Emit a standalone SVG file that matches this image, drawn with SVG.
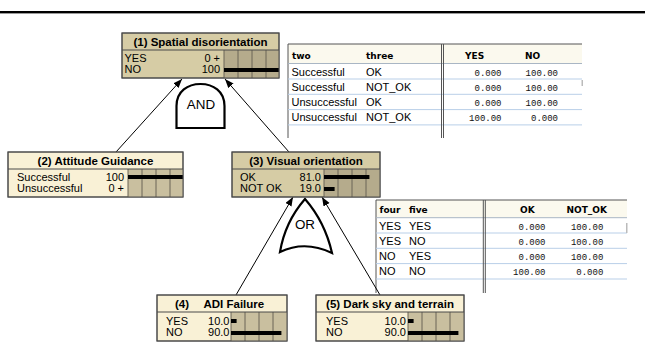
<svg xmlns="http://www.w3.org/2000/svg" width="645" height="343" viewBox="0 0 645 343">
<defs>
<style>
.nb{stroke:#4a4a4a;stroke-width:1}
.dk{fill:#d6cca5}
.lt{fill:#f9f1d6}
.bdk{fill:#b5ab8c}
.blt{fill:#c9bf9f}
.grid{stroke:#6a6456;stroke-width:1}
.ttl{font-family:"Liberation Sans",Arial,sans-serif;font-weight:bold;font-size:11.5px;fill:#000}
.row{font-family:"Liberation Sans",Arial,sans-serif;font-size:11px;fill:#000}
.val{font-family:"Liberation Sans",Arial,sans-serif;font-size:11px;fill:#000;text-anchor:end}
.bar{fill:#000}
.conn{stroke:#000;stroke-width:1;fill:none}
.gate{stroke:#000;stroke-width:2.2;fill:#fff}
.gtxt{font-family:"Liberation Sans",Arial,sans-serif;font-size:13.4px;fill:#000;text-anchor:middle}
.th{font-family:"DejaVu Sans",Verdana,sans-serif;font-weight:bold;font-size:9px;fill:#000}
.td{font-family:"Liberation Sans",Arial,sans-serif;font-size:11px;fill:#000}
.tv{font-family:"Liberation Mono","Courier New",monospace;font-size:9px;fill:#111;text-anchor:end}
.tb{stroke:#555;stroke-width:1}
.hl{stroke:#b9cfe8;stroke-width:1}
</style>
<marker id="ah" markerUnits="userSpaceOnUse" markerWidth="10" markerHeight="8" refX="9" refY="3.5" orient="auto">
<path d="M0,0 L9,3.5 L0,7 Z" fill="#000"/>
</marker>
</defs>
<rect width="645" height="343" fill="#fff"/>
<line x1="0" y1="12" x2="645" y2="12" stroke="#000" stroke-width="2"/>
<line x1="0" y1="13.5" x2="645" y2="13.5" stroke="#9a9a9a" stroke-width="1"/>

<g id="table1">
<rect x="288" y="44" width="294" height="94" fill="#fff"/>
<rect x="288" y="44" width="294" height="19.5" fill="#fbf9ee"/>
<line class="tb" x1="288" y1="44" x2="582" y2="44"/>
<line class="tb" x1="288" y1="44" x2="288" y2="138"/>
<line x1="288" y1="63.5" x2="582" y2="63.5" stroke="#a9b6c4"/>
<line class="hl" x1="288" y1="79" x2="582" y2="79"/>
<line class="hl" x1="288" y1="94.3" x2="582" y2="94.3"/>
<line class="hl" x1="288" y1="109.6" x2="582" y2="109.6"/>
<line class="hl" x1="288" y1="124.9" x2="582" y2="124.9"/>
<line class="tb" x1="441.5" y1="44" x2="441.5" y2="138"/>
<line class="tb" x1="443.5" y1="44" x2="443.5" y2="138"/>
<rect x="581.5" y="80" width="1.5" height="6" fill="#bbb"/>
<text class="th" x="292" y="58.5">two</text>
<text class="th" x="366" y="58.5">three</text>
<text class="th" x="465" y="58.5">YES</text>
<text class="th" x="525" y="58.5">NO</text>
<text class="td" x="291.5" y="75.5">Successful</text><text class="td" x="366" y="75.5">OK</text>
<text class="tv" x="501.5" y="75.5">0.000</text><text class="tv" x="558" y="75.5">100.00</text>
<text class="td" x="291.5" y="90.8">Successful</text><text class="td" x="366" y="90.8">NOT_OK</text>
<text class="tv" x="501.5" y="90.8">0.000</text><text class="tv" x="558" y="90.8">100.00</text>
<text class="td" x="291.5" y="106.1">Unsuccessful</text><text class="td" x="366" y="106.1">OK</text>
<text class="tv" x="501.5" y="106.1">0.000</text><text class="tv" x="558" y="106.1">100.00</text>
<text class="td" x="291.5" y="121.4">Unsuccessful</text><text class="td" x="366" y="121.4">NOT_OK</text>
<text class="tv" x="501.5" y="121.4">100.00</text><text class="tv" x="558" y="121.4">0.000</text>
</g>

<g id="table2">
<rect x="376" y="200" width="251" height="93" fill="#fff"/>
<rect x="376" y="200" width="251" height="17.7" fill="#fbf9ee"/>
<line class="tb" x1="376" y1="200" x2="627" y2="200"/>
<line class="tb" x1="376" y1="200" x2="376" y2="293"/>
<line x1="376" y1="217.7" x2="627" y2="217.7" stroke="#a9b6c4"/>
<line class="hl" x1="376" y1="233" x2="627" y2="233"/>
<line class="hl" x1="376" y1="248.3" x2="627" y2="248.3"/>
<line class="hl" x1="376" y1="263.6" x2="627" y2="263.6"/>
<line class="hl" x1="376" y1="279" x2="627" y2="279"/>
<line class="tb" x1="483.3" y1="200" x2="483.3" y2="293"/>
<line class="tb" x1="485.3" y1="200" x2="485.3" y2="293"/>
<rect x="626" y="223" width="1.5" height="10" fill="#bbb"/>
<text class="th" x="379.5" y="212.5">four</text>
<text class="th" x="409" y="212.5">five</text>
<text class="th" x="520" y="212.5">OK</text>
<text class="th" x="566.5" y="212.5">NOT_OK</text>
<text class="td" x="379" y="229.5">YES</text><text class="td" x="409" y="229.5">YES</text>
<text class="tv" x="545.5" y="229.5">0.000</text><text class="tv" x="603.3" y="229.5">100.00</text>
<text class="td" x="379" y="244.8">YES</text><text class="td" x="409" y="244.8">NO</text>
<text class="tv" x="545.5" y="244.8">0.000</text><text class="tv" x="603.3" y="244.8">100.00</text>
<text class="td" x="379" y="260.1">NO</text><text class="td" x="409" y="260.1">YES</text>
<text class="tv" x="545.5" y="260.1">0.000</text><text class="tv" x="603.3" y="260.1">100.00</text>
<text class="td" x="379" y="275.4">NO</text><text class="td" x="409" y="275.4">NO</text>
<text class="tv" x="545.5" y="275.4">100.00</text><text class="tv" x="603.3" y="275.4">0.000</text>
</g>

<g id="connectors">
<line class="conn" x1="116" y1="152" x2="182" y2="79" marker-end="url(#ah)"/>
<line class="conn" x1="289" y1="152" x2="225" y2="79" marker-end="url(#ah)"/>
<line class="conn" x1="236" y1="295" x2="293" y2="197" marker-end="url(#ah)"/>
<line class="conn" x1="380" y1="295" x2="322" y2="197" marker-end="url(#ah)"/>
</g>

<g id="gate-and">
<path class="gate" d="M176.5,128 L176.5,106 C176.5,91 188,84 200.5,84 C213,84 224.5,91 224.5,106 L224.5,128 Z"/>
<text class="gtxt" x="201" y="109">AND</text>
</g>

<g id="gate-or">
<path class="gate" d="M305,199 Q285,222 280,252 Q305,240 332,253 Q325,222 305,199 Z"/>
<text class="gtxt" x="305" y="229">OR</text>
</g>

<g id="node1">
<rect class="dk nb" x="122" y="33" width="157" height="45"/>
<rect class="bdk" x="224" y="50" width="55" height="28"/>
<line class="grid" x1="238" y1="50" x2="238" y2="78"/>
<line class="grid" x1="252" y1="50" x2="252" y2="78"/>
<line class="grid" x1="266" y1="50" x2="266" y2="78"/>
<line class="grid" x1="224" y1="50" x2="224" y2="78"/>
<rect class="bar" x="224" y="68" width="55" height="4"/>
<rect class="nb" x="122" y="33" width="157" height="45" fill="none"/>
<line class="nb" x1="122" y1="50" x2="279" y2="50"/>
<text class="ttl" x="200.5" y="45.5" text-anchor="middle">(1) Spatial disorientation</text>
<text class="row" x="124.5" y="62">YES</text>
<text class="val" x="220" y="62">0 +</text>
<text class="row" x="124.5" y="73">NO</text>
<text class="val" x="220" y="73">100</text>
</g>

<g id="node2">
<rect class="lt nb" x="8" y="152" width="175" height="45"/>
<rect class="blt" x="128" y="169" width="55" height="28"/>
<line class="grid" x1="128" y1="169" x2="128" y2="197"/>
<line class="grid" x1="142" y1="169" x2="142" y2="197"/>
<line class="grid" x1="156" y1="169" x2="156" y2="197"/>
<line class="grid" x1="170" y1="169" x2="170" y2="197"/>
<rect class="bar" x="128" y="175" width="55" height="4"/>
<rect class="nb" x="8" y="152" width="175" height="45" fill="none"/>
<line class="nb" x1="8" y1="169" x2="183" y2="169"/>
<text class="ttl" x="95.5" y="164.5" text-anchor="middle">(2) Attitude Guidance</text>
<text class="row" x="17" y="181">Successful</text>
<text class="val" x="124" y="181">100</text>
<text class="row" x="17" y="192">Unsuccessful</text>
<text class="val" x="124" y="192">0 +</text>
</g>

<g id="node3">
<rect class="dk nb" x="232" y="152" width="148" height="45"/>
<rect class="bdk" x="324" y="169" width="56" height="28"/>
<line class="grid" x1="324" y1="169" x2="324" y2="197"/>
<line class="grid" x1="338" y1="169" x2="338" y2="197"/>
<line class="grid" x1="352" y1="169" x2="352" y2="197"/>
<line class="grid" x1="366" y1="169" x2="366" y2="197"/>
<rect class="bar" x="324" y="175" width="45.4" height="4"/>
<rect class="bar" x="324" y="187" width="10.6" height="4"/>
<rect class="nb" x="232" y="152" width="148" height="45" fill="none"/>
<line class="nb" x1="232" y1="169" x2="380" y2="169"/>
<text class="ttl" x="306" y="164.5" text-anchor="middle">(3) Visual orientation</text>
<text class="row" x="240" y="181">OK</text>
<text class="val" x="321" y="181">81.0</text>
<text class="row" x="240" y="192">NOT OK</text>
<text class="val" x="321" y="192">19.0</text>
</g>

<g id="node4">
<rect class="lt nb" x="157" y="295" width="130" height="46"/>
<rect class="blt" x="231" y="312" width="56" height="29"/>
<line class="grid" x1="231" y1="312" x2="231" y2="341"/>
<line class="grid" x1="245" y1="312" x2="245" y2="341"/>
<line class="grid" x1="259" y1="312" x2="259" y2="341"/>
<line class="grid" x1="273" y1="312" x2="273" y2="341"/>
<rect class="bar" x="231" y="319" width="5.6" height="4"/>
<rect class="bar" x="231" y="331" width="50.4" height="4"/>
<rect class="nb" x="157" y="295" width="130" height="46" fill="none"/>
<line class="nb" x1="157" y1="312" x2="287" y2="312"/>
<text class="ttl" y="307.5"><tspan x="175">(4)</tspan><tspan x="203.5">ADI Failure</tspan></text>
<text class="row" x="166" y="325">YES</text>
<text class="val" x="229.5" y="325">10.0</text>
<text class="row" x="166" y="336">NO</text>
<text class="val" x="229.5" y="336">90.0</text>
</g>

<g id="node5">
<rect class="lt nb" x="316" y="295" width="148" height="46"/>
<rect class="blt" x="408" y="312" width="56" height="29"/>
<line class="grid" x1="408" y1="312" x2="408" y2="341"/>
<line class="grid" x1="422" y1="312" x2="422" y2="341"/>
<line class="grid" x1="436" y1="312" x2="436" y2="341"/>
<line class="grid" x1="450" y1="312" x2="450" y2="341"/>
<rect class="bar" x="408" y="319" width="5.6" height="4"/>
<rect class="bar" x="408" y="331" width="50.4" height="4"/>
<rect class="nb" x="316" y="295" width="148" height="46" fill="none"/>
<line class="nb" x1="316" y1="312" x2="464" y2="312"/>
<text class="ttl" x="390" y="307.5" text-anchor="middle">(5) Dark sky and terrain</text>
<text class="row" x="326" y="325">YES</text>
<text class="val" x="406" y="325">10.0</text>
<text class="row" x="326" y="336">NO</text>
<text class="val" x="406" y="336">90.0</text>
</g>
</svg>
